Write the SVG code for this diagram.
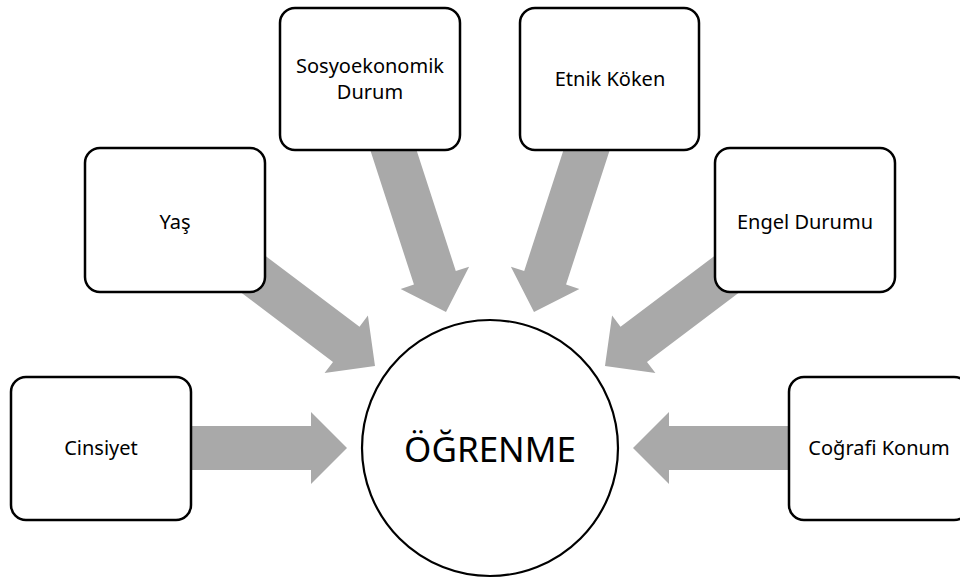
<svg xmlns="http://www.w3.org/2000/svg" xmlns:xlink="http://www.w3.org/1999/xlink" width="960" height="581" viewBox="0 0 960 581">
  <style>
    .box { fill: #ffffff; stroke: #000000; stroke-width: 2.5; }
    .hub { fill: #ffffff; stroke: #000000; stroke-width: 2.2; }
    .lbl { font-family: "Noto Sans", "Open Sans", "Liberation Sans", sans-serif; font-size: 20px; fill: #000000; text-anchor: middle; }
    .big { font-family: "Noto Sans", "Open Sans", "Liberation Sans", sans-serif; font-size: 35px; fill: #000000; text-anchor: middle; }
    .arrow { fill: #A9A9A9; stroke: none; }
  </style>
  <defs>
    <path id="bigArrow" d="M-200,-22 H-36 V-36 L0,0 L-36,36 V22 H-200 Z"/>
  </defs>
  <rect width="960" height="581" fill="#ffffff"/>

  <g id="connectors">
    <use xlink:href="#bigArrow" href="#bigArrow" class="arrow" transform="translate(347,448)"/>
    <use xlink:href="#bigArrow" href="#bigArrow" class="arrow" transform="translate(375,366) rotate(37)"/>
    <use xlink:href="#bigArrow" href="#bigArrow" class="arrow" transform="translate(446,312) rotate(72)"/>
    <use xlink:href="#bigArrow" href="#bigArrow" class="arrow" transform="translate(534,312) rotate(108)"/>
    <use xlink:href="#bigArrow" href="#bigArrow" class="arrow" transform="translate(605,366) rotate(143)"/>
    <use xlink:href="#bigArrow" href="#bigArrow" class="arrow" transform="translate(633,448) rotate(180)"/>
  </g>

  <g id="node-ogrenme">
    <circle class="hub" cx="490" cy="448" r="128"/>
    <text class="big" x="490" y="462">ÖĞRENME</text>
  </g>

  <g id="node-sosyoekonomik">
    <rect class="box" x="280" y="8" width="180" height="142" rx="15" ry="15"/>
    <text class="lbl" x="370" y="73">Sosyoekonomik</text>
    <text class="lbl" x="370" y="98.5">Durum</text>
  </g>

  <g id="node-etnik">
    <rect class="box" x="520" y="8" width="179" height="142" rx="15" ry="15"/>
    <text class="lbl" x="610" y="86">Etnik Köken</text>
  </g>

  <g id="node-yas">
    <rect class="box" x="85" y="148" width="180" height="144" rx="15" ry="15"/>
    <text class="lbl" x="175" y="228.5">Yaş</text>
  </g>

  <g id="node-engel">
    <rect class="box" x="715" y="148" width="180" height="144" rx="15" ry="15"/>
    <text class="lbl" x="805" y="228.5">Engel Durumu</text>
  </g>

  <g id="node-cinsiyet">
    <rect class="box" x="11" y="377" width="180" height="143" rx="15" ry="15"/>
    <text class="lbl" x="101" y="455">Cinsiyet</text>
  </g>

  <g id="node-cografi">
    <rect class="box" x="789" y="377" width="180" height="143" rx="15" ry="15"/>
    <text class="lbl" x="879" y="455">Coğrafi Konum</text>
  </g>
</svg>
